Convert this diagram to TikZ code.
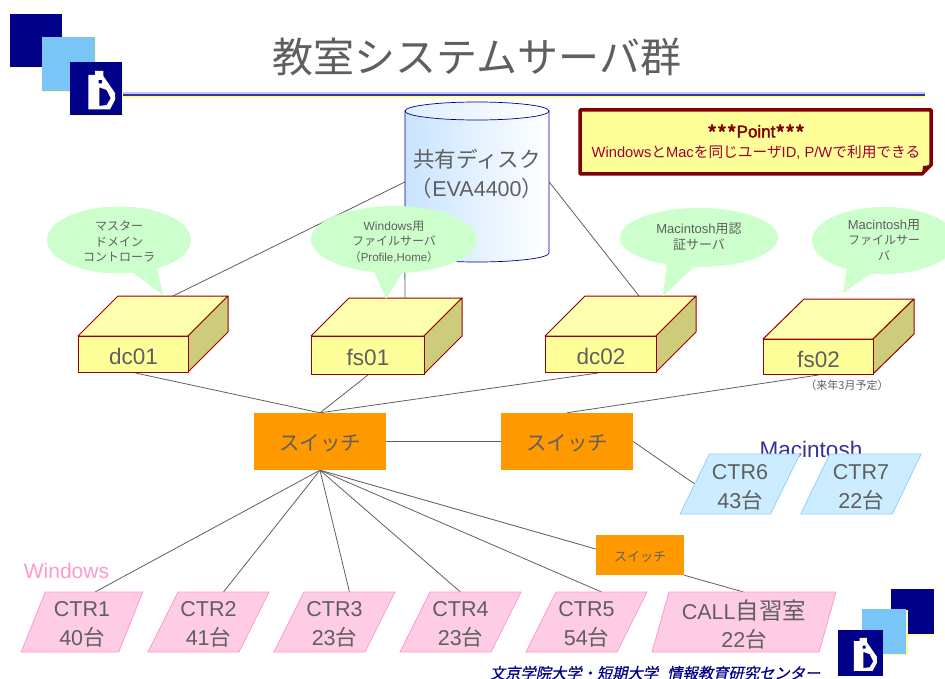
\documentclass[tikz,border=0pt]{standalone}
\usepackage{fontspec}
\setmainfont{Liberation Sans}
\newfontfamily\cjk{Noto Sans CJK JP}
\newfontfamily\cjkslant[FakeSlant=0.22,FakeBold=0.6]{Noto Sans CJK JP}
\newfontfamily\pointfont[FakeBold=2.2]{Liberation Sans}
\newfontfamily\starfont[FakeBold=3]{Noto Sans CJK JP}
\usetikzlibrary{shapes.geometric,backgrounds,calc}
\definecolor{txt}{HTML}{5F5F5F}
\definecolor{navy}{HTML}{000088}
\definecolor{sky}{HTML}{7AC5F8}
\definecolor{wine}{HTML}{990000}
\definecolor{deepwine}{HTML}{800000}
\definecolor{notetext}{HTML}{A00030}
\definecolor{pale}{HTML}{FFFF99}
\definecolor{paletop}{HTML}{FFFFB0}
\definecolor{paleside}{HTML}{CCCC7A}
\definecolor{mint}{HTML}{CCFFCC}
\definecolor{sw}{HTML}{FF9900}
\definecolor{pinkf}{HTML}{FFCCE5}
\definecolor{pinkl}{HTML}{FF99CC}
\definecolor{bluef}{HTML}{CCECFF}
\definecolor{bluel}{HTML}{99CCFF}
\definecolor{macblue}{HTML}{333399}
\definecolor{rule}{HTML}{3333AA}
\definecolor{rulehi}{HTML}{C8C8EC}
\definecolor{diskl}{HTML}{C8E4FF}
\newcommand{\J}[1]{{\cjk #1}}
\newcommand{\dn}[2]{\raisebox{-#1pt}[\height][\depth]{#2}}
\newcommand{\stack}[1]{\begin{tabular}{@{}c@{}}#1\end{tabular}}
\tikzset{
  lbl/.style={text=txt,font=\fontsize{21.5}{28.5}\selectfont,align=center,inner sep=0pt},
  frontbox/.style={draw=wine,line width=1pt,fill=pale,text=txt,font=\fontsize{22.5}{26}\selectfont,inner sep=0pt,anchor=north west},
  boxtop/.style={draw=wine,line width=1pt,fill=paletop,line join=round},
  boxside/.style={draw=wine,line width=1pt,fill=paleside,line join=round},
  bubble/.style={ellipse,fill=mint,inner sep=0pt,text=txt,align=center,font=\fontsize{12}{15.5}\selectfont},
  bubbletail/.style={fill=mint},
  swbox/.style={fill=sw,text=txt,inner sep=0pt,align=center},
  link/.style={draw=txt,line width=0.8pt},
  pinkpar/.style={fill=pinkf,draw=pinkl,line width=0.8pt},
  bluepar/.style={fill=bluef,draw=bluel,line width=0.8pt},
}
\def\plgdy{0}
% name, cx, cy, width, slant, look, text
\newcommand{\plg}[7]{%
  \draw[#6] ({#2-#4/2+#5/2},{#3-30}) -- ({#2+#4/2+#5/2},{#3-30}) -- ({#2+#4/2-#5/2},{#3+30}) -- ({#2-#4/2-#5/2},{#3+30}) -- cycle;
  \node[lbl] (#1) at (#2,{#3+\plgdy}) {#7};
  \coordinate (#1t) at ({#2+#5/2},{#3-30});
  \coordinate (#1l) at ({#2-#4/2},#3);
}
% name, left, top, right, bottom, depth-x, depth-y, text
\newcommand{\srv}[8]{%
  \draw[boxtop] (#2,#3) -- ({#2+#6},{#3-#7}) -- ({#4+#6},{#3-#7}) -- (#4,#3) -- cycle;
  \draw[boxside] (#4,#3) -- ({#4+#6},{#3-#7}) -- ({#4+#6},{#5-#7}) -- (#4,#5) -- cycle;
  \node[frontbox,minimum width=#4 pt-#2 pt,minimum height=#5 pt-#3 pt] (#1) at (#2,#3) {\dn{2}{#8}};
}
% logo block with the B glyph: x, y of top-left, scale
\newcommand{\bblock}[3]{%
  \begin{scope}[shift={(#1,#2)},scale=#3]
    \fill[navy] (0,0) rectangle (52,53);
    \fill[white,even odd rule] (18.3,13) -- (25,13) -- (25,9) -- (33.3,9) -- (33.3,14) -- (45,31) -- (45,38) -- (40,47.3) -- (18.3,47.3) -- cycle
      (29.3,25.3) -- (36.7,28) -- (40.7,36.3) -- (36.7,43) -- (29.3,44) -- cycle
      (28.5,18) rectangle (32,21.5);
  \end{scope}
}
\begin{document}
\begin{tikzpicture}[x=1pt,y=-1pt]
\useasboundingbox (0,0) rectangle (945,679);
% header logo and rule
\fill[pale] (10,66) rectangle (63,68);
\fill[navy] (10,14) rectangle (62,67);
\fill[pale] (43,38) rectangle (96,92);
\fill[sky] (42,37) rectangle (95,91);
\fill[pale] (71,64) rectangle (123,116);
\bblock{70}{62}{1}
\fill[pale] (123,95.5) rectangle (925,98);
\fill[rulehi] (123,92.5) rectangle (925,94);
\fill[rule] (123,94) rectangle (925,96.2);
\node[text=txt,font=\cjk\fontsize{41}{44}\selectfont,inner sep=0pt] (title) at (477,57) {教室システムサーバ群};
% shared disk
\shade[left color=diskl,right color=white,draw=navy,line width=0.7pt]
  (405,111) -- (405,253) arc[start angle=180,end angle=0,x radius=72,y radius=9] -- (549,111) -- cycle;
\shade[left color=diskl!60,right color=white,draw=navy,line width=0.7pt] (477,111) ellipse[x radius=72,y radius=9];
\node[lbl,minimum width=144pt,minimum height=160pt] (disk) at (477,182) {};
\node[lbl,font=\fontsize{21.5}{29}\selectfont] (disktext) at (477,174) {\J{共有ディスク}\\\J{（}EVA4400\J{）}};
% point note
\draw[draw=deepwine,line width=3.5pt,fill=pale,line join=round] (580,110) -- (931,110) -- (931,165) -- (922,174) -- (580,174) -- cycle;
\fill[deepwine] (931,165) -- (922,174) -- (923,166) -- cycle;
\node[inner sep=0pt,align=center,font=\fontsize{14.7}{20}\selectfont] (point) at (756,140) {%
  {\color{deepwine}\dn{4}{\starfont\fontsize{21}{20}\selectfont ***}{\pointfont\fontsize{17}{20}\selectfont Point}\dn{4}{\starfont\fontsize{21}{20}\selectfont ***}}\\
  {\color{notetext}Windows\J{と}Mac\J{を同じユーザ}ID, P/W\J{で利用できる}}};
% servers
\srv{dc01}{78}{336}{188}{372}{40}{40}{dc01}
\srv{fs01}{311}{336}{424}{374}{38}{38}{fs01}
\srv{dc02}{545}{336}{656}{372}{40}{40}{dc02}
\srv{fs02}{763}{339}{873}{374}{41}{40}{fs02}
\coordinate (dc01t) at (173,296);
\coordinate (fs01t) at (405,298);
\coordinate (dc02t) at (639,296);
\node[text=txt,font=\fontsize{11}{12}\selectfont,inner sep=0pt] (fs02note) at (847,385) {\J{（来年3月予定）}};
% callouts
\fill[bubbletail] (132,272) -- (157,267) -- (163,295) -- cycle;
\node[bubble,minimum width=144pt,minimum height=67pt] (call1) at (119,240) {\dn{3}{\stack{\J{マスター}\\\J{ドメイン}\\\J{コントローラ}}}};
\fill[bubbletail] (374,271) -- (404,270) -- (386,299) -- cycle;
\node[bubble,minimum width=166pt,minimum height=67pt] (call2) at (394,239.5) {\dn{3}{\stack{Windows\J{用}\\\J{ファイルサーバ}\\\fontsize{11.5}{15.5}\selectfont\J{（}Profile,Home\J{）}}}};
\fill[bubbletail] (667,263) -- (697,264) -- (663,296) -- cycle;
\node[bubble,minimum width=158pt,minimum height=59pt,font=\fontsize{13}{16}\selectfont] (call3) at (699,237.5) {\dn{1}{\stack{Macintosh\J{用認}\\\J{証サーバ}}}};
\fill[bubbletail] (847,268) -- (873,272) -- (843,293) -- cycle;
\node[bubble,minimum width=144pt,minimum height=67pt] (call4) at (884,240.5) {\dn{1}{\stack{\fontsize{13}{15.5}\selectfont Macintosh\J{用}\\\J{ファイルサー}\\\J{バ}}}};
% switches
\node[swbox,minimum width=132pt,minimum height=57pt,font=\cjk\fontsize{20.5}{24}\selectfont] (sw1) at (320,441.5) {\dn{2}{スイッチ}};
\node[swbox,minimum width=132pt,minimum height=57pt,font=\cjk\fontsize{20.5}{24}\selectfont] (sw2) at (567,441.5) {\dn{2}{スイッチ}};
\node[swbox,minimum width=88pt,minimum height=40pt,font=\cjk\fontsize{13}{16}\selectfont] (sw3) at (640,555) {\dn{2}{スイッチ}};
% labels of the groups
\node[text=macblue,font=\fontsize{22.5}{26}\selectfont,inner sep=0pt] (mac) at (811,449) {Macintosh};
\node[text=pinkl,font=\fontsize{21}{26}\selectfont,inner sep=0pt] (win) at (66.5,570.5) {Windows};
% clients
\def\plgdy{2.5}
\plg{ctra}{82}{622}{97.5}{24}{pinkpar}{CTR1\\40\J{台}}
\plg{ctrb}{208.5}{622}{91}{30}{pinkpar}{CTR2\\41\J{台}}
\plg{ctrc}{334.5}{622}{91}{30}{pinkpar}{CTR3\\23\J{台}}
\plg{ctrd}{460.5}{622}{91}{30}{pinkpar}{CTR4\\23\J{台}}
\plg{ctre}{586.5}{622}{91}{30}{pinkpar}{CTR5\\54\J{台}}
\plg{callr}{744}{622}{167}{17}{pinkpar}{CALL{\cjk\fontsize{23.5}{28.5}\selectfont 自習室}\\22\J{台}}
\def\plgdy{3.5}
\plg{ctrf}{740}{484}{90.5}{29.5}{bluepar}{CTR6\\43\J{台}}
\plg{ctrg}{861}{484}{91.5}{29}{bluepar}{CTR7\\22\J{台}}
% footer logo
\fill[pale] (891,634) rectangle (934,636);
\fill[navy] (891,589) rectangle (934,634);
\fill[pale] (863,610) rectangle (908,655);
\fill[sky] (862,609) rectangle (906,654);
\bblock{838}{630}{0.865}
\node[text=navy,font=\cjkslant\fontsize{15.3}{18}\selectfont,inner sep=0pt] (footer) at (655,673) {文京学院大学・短期大学\hspace{0.6em}情報教育研究センター};
% connectors
\begin{scope}[on background layer]
  \draw[link] (dc01t) -- (disk.west);
  \draw[link] (fs01t) -- (disk.south west);
  \draw[link] (dc02t) -- (disk.east);
  \draw[link] ($(dc01.south)+(2,0)$) -- (sw1.north);
  \draw[link] (fs01.south) -- (sw1.north);
  \draw[link] ($(dc02.south)+(-3,0)$) -- (sw1.north);
  \draw[link] (fs02.south) -- (sw2.north);
  \draw[link] (sw1.east) -- (sw2.west);
  \draw[link] (sw2.east) -- (ctrfl);
  \draw[link] (sw1.south) -- ($(ctrat)+(1,0)$);
  \draw[link] (sw1.south) -- (ctrbt);
  \draw[link] (sw1.south) -- (ctrct);
  \draw[link] (sw1.south) -- ($(ctrdt)+(-15,0)$);
  \draw[link] (sw1.south) -- (ctret);
  \draw[link] (sw1.south) -- ($(sw3.west)+(0,-6)$);
  \draw[link] (sw3.south east) -- ($(callrt)+(-9,0)$);
\end{scope}
\end{tikzpicture}
\end{document}
